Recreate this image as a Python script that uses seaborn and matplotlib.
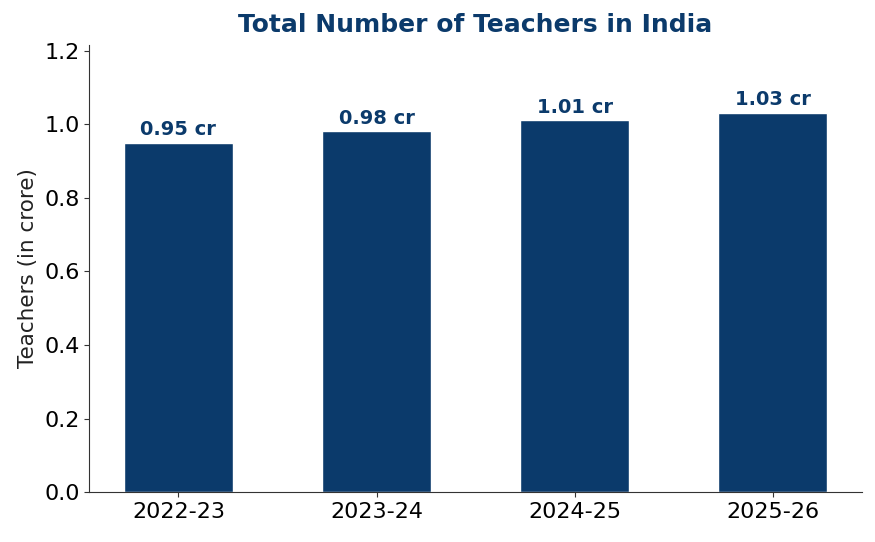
import pandas as pd
import seaborn as sns
import matplotlib.pyplot as plt

years = ['2022-23', '2023-24', '2024-25', '2025-26']
teachers = [0.95, 0.98, 1.01, 1.03]
labels = ['0.95 cr', '0.98 cr', '1.01 cr', '1.03 cr']

df = pd.DataFrame({'Year': years, 'Teachers': teachers})

sns.set_style('ticks')
plt.rcParams['font.family'] = ['DejaVu Sans']

navy = '#0b3a6b'

fig, ax = plt.subplots(figsize=(8.75, 5.42), dpi=100)
sns.barplot(data=df, x='Year', y='Teachers', color=navy, width=0.55, saturation=1, ax=ax)

for i, (v, lab) in enumerate(zip(teachers, labels)):
    ax.text(i, v + 0.01, lab, ha='center', va='bottom', fontsize=14,
            fontweight='bold', color=navy)

ax.set_xlim(-0.45, 3.45)
ax.set_ylim(0, 1.215)
ax.set_title('Total Number of Teachers in India', fontsize=18, fontweight='bold',
             color=navy, pad=9)
ax.set_xlabel('')
ax.set_ylabel('Teachers (in crore)', fontsize=15.5, color='#222222')
ax.tick_params(labelsize=16, labelcolor='black', color='#333333')
for s in ax.spines.values():
    s.set_color('#333333')
sns.despine(ax=ax)

fig.subplots_adjust(left=0.102, right=0.985, bottom=0.092, top=0.917)
plt.savefig('out.png', dpi=100)
